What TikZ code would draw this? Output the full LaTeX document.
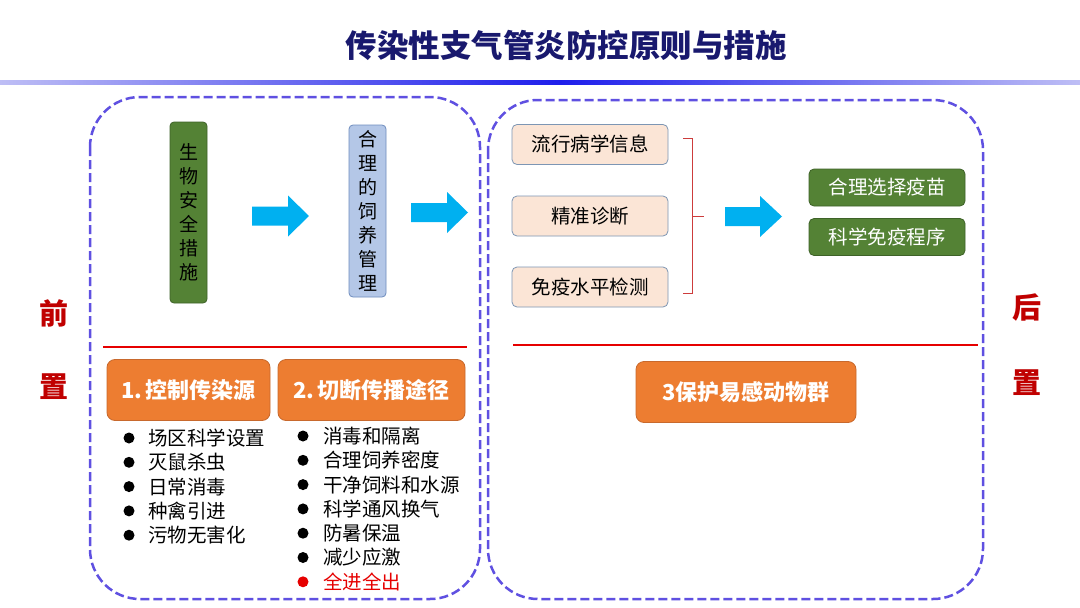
\documentclass[tikz,border=0pt]{standalone}
\usepackage{fontspec}
\setmainfont{Noto Sans CJK SC}
\newfontfamily\cjk{Noto Sans CJK SC}
\definecolor{dashblue}{RGB}{95,80,225}
\definecolor{titlenavy}{RGB}{25,25,110}
\definecolor{arrowblue}{RGB}{0,176,240}
\definecolor{boxgreen}{RGB}{84,130,53}
\definecolor{boxgreenb}{RGB}{62,98,40}
\definecolor{boxlblue}{RGB}{180,199,231}
\definecolor{boxlblueb}{RGB}{110,140,190}
\definecolor{boxpeach}{RGB}{251,229,214}
\definecolor{boxpeachb}{RGB}{125,150,180}
\definecolor{boxorange}{RGB}{237,125,49}
\definecolor{boxorangeb}{RGB}{200,105,45}
\definecolor{linered}{RGB}{230,0,0}
\definecolor{bracered}{RGB}{205,60,60}
\definecolor{sidered}{RGB}{192,0,0}
\definecolor{gradlight}{RGB}{190,190,245}
\definecolor{graddark}{RGB}{30,30,235}
\tikzset{
  dashbox/.style={draw=dashblue, line width=2.5pt, dash pattern=on 9pt off 4pt, rounded corners=50pt},
  vgreen/.style={draw=boxgreenb, fill=boxgreen, rounded corners=4pt, line width=0.8pt, inner sep=0pt,
    minimum width=37pt, minimum height=181pt, align=center, font=\fontsize{19}{24}\selectfont, text=black},
  vblue/.style={draw=boxlblueb, fill=boxlblue, rounded corners=4pt, line width=0.8pt, inner sep=0pt,
    minimum width=37pt, minimum height=172pt, align=center, font=\fontsize{19}{24}\selectfont, text=black},
  peachbox/.style={draw=boxpeachb, fill=boxpeach, rounded corners=5pt, line width=0.8pt, inner sep=0pt,
    minimum width=156pt, minimum height=40pt, font=\fontsize{19.5}{22}\selectfont, text=black},
  greenbox/.style={draw=boxgreenb, fill=boxgreen, rounded corners=5pt, line width=0.8pt, inner sep=0pt,
    minimum width=156pt, minimum height=37pt, font=\fontsize{19.5}{22}\selectfont, text=white},
  orangebox/.style={draw=boxorangeb, fill=boxorange, rounded corners=8pt, line width=0.8pt, inner sep=0pt,
    minimum height=61pt, font=\fontsize{22}{24}\selectfont\bfseries, text=white},
  blockarrow/.style={fill=arrowblue, draw=none},
  bullettext/.style={anchor=west, inner sep=0pt, font=\fontsize{19.5}{22}\selectfont, text=black},
  sidelabel/.style={font=\fontsize{29}{30}\selectfont\bfseries, text=sidered, inner sep=0pt},
  redline/.style={draw=linered, line width=2pt},
  bracket/.style={draw=bracered, line width=0.9pt}
}
\newcommand\myblockarrow[4]{% x0, xh, x1, yc
  \fill[blockarrow] (#1,#4-9.5) -- (#2,#4-9.5) -- (#2,#4-20.5) -- (#3,#4) -- (#2,#4+20.5) -- (#2,#4+9.5) -- (#1,#4+9.5) -- cycle;}
\begin{document}
\begin{tikzpicture}[x=1pt,y=-1pt]
\useasboundingbox[fill=white] (0,0) rectangle (1080,608);
% title
\node[font=\fontsize{31.5}{34}\selectfont\bfseries, text=titlenavy, inner sep=0pt] (title) at (566,45) {传染性支气管炎防控原则与措施};
% gradient rule
\shade[left color=gradlight, right color=graddark] (0,80.5) rectangle (560,84);
\shade[left color=graddark, right color=gradlight] (560,80.5) rectangle (1080,84);
% dashed frames
\draw[dashbox] (90,97) rectangle (480,599);
\draw[dashbox] (488,100) rectangle (983,599);
% side labels
\node[sidelabel] (qian) at (54,313) {前};
\node[sidelabel] (zhi1) at (54,387) {置};
\node[sidelabel] (hou) at (1027,308) {后};
\node[sidelabel] (zhi2) at (1027,383) {置};
% left top
\node[vgreen] (bio) at (188.5,212.5) {生\\物\\安\\全\\措\\施};
\node[vblue] (feed) at (367.5,211) {合\\理\\的\\饲\\养\\管\\理};
\myblockarrow{252}{288}{309}{216}
\myblockarrow{411}{447}{468}{212.5}
% red lines
\draw[redline] (103,347) -- (467,347);
\draw[redline] (513,345) -- (978,345);
% right top
\node[peachbox] (epi) at (590,144.5) {流行病学信息};
\node[peachbox] (diag) at (590,216) {精准诊断};
\node[peachbox] (immu) at (590,287) {免疫水平检测};
\draw[bracket] (683,138) -- (692,138) -- (692,293) -- (683,293);
\draw[bracket] (692,216) -- (704,216);
\myblockarrow{725}{760}{782}{216.5}
\node[greenbox] (vac) at (887,187.5) {合理选择疫苗};
\node[greenbox] (prog) at (887,237) {科学免疫程序};
% orange headers
\node[orangebox, minimum width=163pt] (src) at (188.5,390) {1.\,控制传染源};
\node[orangebox, minimum width=187pt] (route) at (371.5,390) {2.\,切断传播途径};
\node[orangebox, minimum width=220pt] (prot) at (746,392) {3保护易感动物群};
% bullet lists
\foreach \t [count=\i] in {场区科学设置,灭鼠杀虫,日常消毒,种禽引进,污物无害化}{
  \fill[black] (129,{438+24.3*(\i-1)}) circle (5.5pt);
  \node[bullettext] (la\i) at (148,{438+24.3*(\i-1)}) {\t};
}
\foreach \t [count=\i] in {消毒和隔离,合理饲养密度,干净饲料和水源,科学通风换气,防暑保温,减少应激}{
  \fill[black] (303,{436+24.3*(\i-1)}) circle (5.5pt);
  \node[bullettext] (lb\i) at (323,{436+24.3*(\i-1)}) {\t};
}
\fill[linered] (303,581.8) circle (5.5pt);
\node[bullettext, text=linered] (lb7) at (323,581.8) {全进全出};
\end{tikzpicture}
\end{document}
